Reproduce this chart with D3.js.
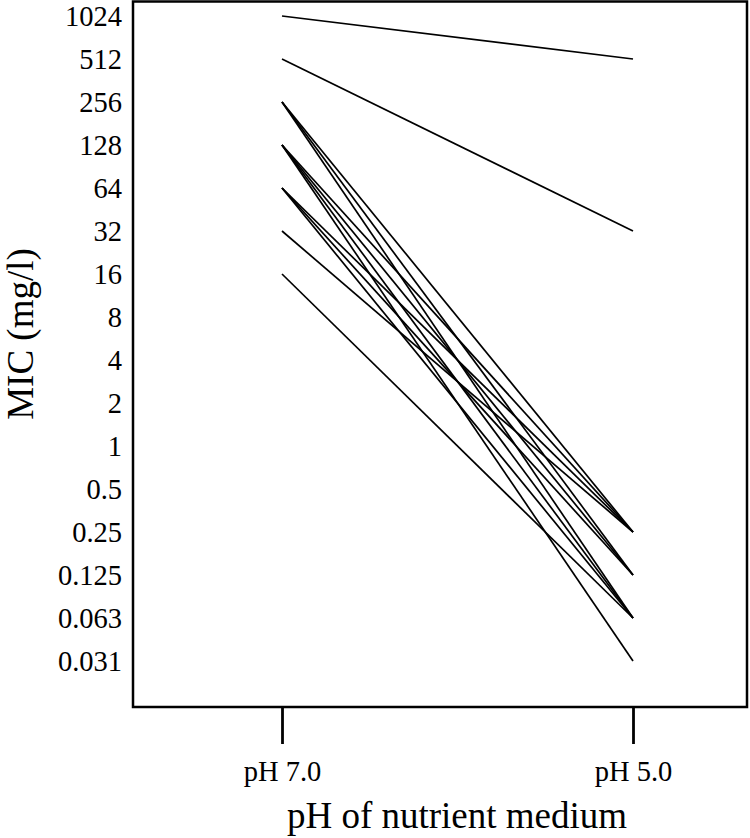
<!DOCTYPE html>
<html>
<head>
<meta charset="utf-8">
<script src="https://cdn.jsdelivr.net/npm/d3@7/dist/d3.min.js"></script>
<style>
  html, body { margin: 0; padding: 0; background: #fff; }
  svg { display: block; }
  text { font-family: "Liberation Serif", "Times New Roman", serif; fill: #000; }
</style>
</head>
<body>
<svg id="chart" width="750" height="838"></svg>
<script>
// ---- data ----
const categories = ["pH 7.0", "pH 5.0"];
const micPH7 = [1024, 512, 256, 256, 256, 128, 128, 128, 128, 64, 64, 64, 32, 16];
const micPH5 = [512, 32, 0.25, 0.125, 0.0625, 0.25, 0.125, 0.0625, 0.03125, 0.25, 0.125, 0.0625, 0.25, 0.0625];
const yTickValues = [1024, 512, 256, 128, 64, 32, 16, 8, 4, 2, 1, 0.5, 0.25, 0.125, 0.0625, 0.03125];
const yTickLabels = ["1024", "512", "256", "128", "64", "32", "16", "8", "4", "2", "1", "0.5", "0.25", "0.125", "0.063", "0.031"];
const xTitle = "pH of nutrient medium";
const yTitle = "MIC (mg/l)";

// ---- layout ----
const box = { left: 133, top: 1.5, right: 747, bottom: 707 };
const svg = d3.select("#chart");

const x = d3.scalePoint().domain(categories).range([282, 633]).padding(0);
const y = d3.scaleLog().base(2).domain([0.03125, 1024]).range([661, 16]);

// box
svg.append("rect")
  .attr("x", box.left).attr("y", box.top)
  .attr("width", box.right - box.left).attr("height", box.bottom - box.top)
  .attr("fill", "none").attr("stroke", "#000").attr("stroke-width", 2.5);

// lines
const pairs = micPH7.map((v, i) => [v, micPH5[i]]);
const line = d3.line().x((d, j) => x(categories[j])).y(d => y(d));
svg.append("g").selectAll("path").data(pairs).join("path")
  .attr("d", d => line(d))
  .attr("fill", "none").attr("stroke", "#000").attr("stroke-width", 1.7);

// y axis
const yAxis = d3.axisLeft(y)
  .tickValues(yTickValues)
  .tickFormat((d, i) => yTickLabels[i])
  .tickSize(0).tickPadding(11);
const gy = svg.append("g").attr("transform", `translate(${box.left},0)`).call(yAxis);
gy.select(".domain").remove();
gy.selectAll("text").style("font-size", "28.5px").attr("dy", "0.34em");

// x axis
const xAxis = d3.axisBottom(x).tickSize(37).tickSizeOuter(0);
const gx = svg.append("g").attr("transform", `translate(0,${box.bottom})`).call(xAxis);
gx.select(".domain").remove();
gx.selectAll(".tick line").attr("stroke", "#000").attr("stroke-width", 2.8);
gx.selectAll("text").style("font-size", "28.5px").attr("y", 74).attr("dy", 0);

// titles
svg.append("text")
  .attr("x", 457).attr("y", 828)
  .attr("text-anchor", "middle")
  .style("font-size", "37px")
  .text(xTitle);

svg.append("text")
  .attr("transform", "translate(33,334) rotate(-90)")
  .attr("text-anchor", "middle")
  .style("font-size", "37px")
  .text(yTitle);
</script>
</body>
</html>
